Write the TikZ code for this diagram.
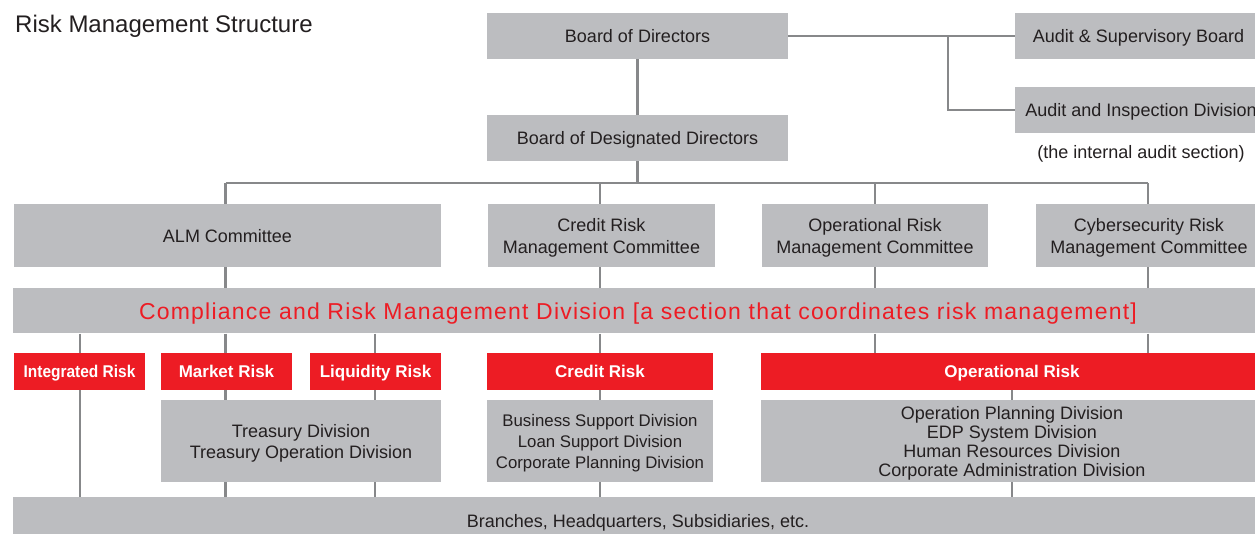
\documentclass[tikz,border=0pt]{standalone}
\usepackage{fontspec}
\setmainfont{Liberation Sans}
\usetikzlibrary{backgrounds}
\definecolor{boxgray}{HTML}{BCBDC0}
\definecolor{riskred}{HTML}{ED1C24}
\definecolor{linegray}{HTML}{87888A}
\definecolor{txt}{HTML}{231F20}
\tikzset{
  boxsize/.style 2 args={minimum width=#1pt,minimum height=#2pt},
  gbox/.style={fill=boxgray,draw=none,inner sep=0pt,text=txt,align=center,
    text depth=0pt,font=\fontsize{18}{22}\selectfont},
  rbox/.style={fill=riskred,draw=none,inner sep=0pt,text=white,align=center,
    text depth=0pt,font=\bfseries\fontsize{17}{20}\selectfont},
  conn/.style={draw=linegray,line width=2.4pt},
  plain/.style={inner sep=0pt,text=txt,font=\fontsize{18}{22}\selectfont},
}
\begin{document}
\begin{tikzpicture}[x=1pt,y=-1pt]
\useasboundingbox (0,0) rectangle (1255,534);
\begin{scope}
\clip (0,0) rectangle (1255,534);

% title
\node[anchor=base west,inner sep=0pt,text=txt,font=\fontsize{24}{28}\selectfont] (title) at (15,33) {Risk Management Structure};

% top
\node[gbox,boxsize={301}{46}] (bod) at (637.5,36) {Board of Directors};
\node[gbox,boxsize={301}{46}] (bodd) at (637.5,138) {Board of Designated Directors};
\node[gbox,boxsize={247}{46}] (asb) at (1138.5,36) {Audit \& Supervisory Board};
\node[gbox,boxsize={252}{46}] (aid) at (1141,110) {Audit and Inspection Division};
\node[plain,anchor=base] (note) at (1141,159) {(the internal audit section)};

% committees
\node[gbox,boxsize={227}{63}] (crc) at (601.5,235.5) {Credit Risk\\Management Committee};
\node[gbox,boxsize={427}{63}] (alm) at (227.5,235.5) {ALM Committee};
\node[gbox,boxsize={226}{63}] (orc) at (875,235.5) {Operational Risk\\Management Committee};
\node[gbox,boxsize={226}{63}] (cyc) at (1149,235.5) {Cybersecurity Risk\\Management Committee};

% coordinating division
\node[gbox,boxsize={1250}{45},text=riskred,font=\fontsize{23}{27}\selectfont\addfontfeature{LetterSpace=5.3}] (crm) at (638,311)
  {Compliance and Risk Management Division [a section that coordinates risk management]};

% risk categories
\node[rbox,boxsize={131}{37}] (ir) at (79.5,371.5) {\scalebox{0.91}[1]{Integrated Risk}};
\node[rbox,boxsize={131}{37}] (mr) at (226.5,371.5) {Market Risk};
\node[rbox,boxsize={131}{37}] (lr) at (375.5,371.5) {Liquidity Risk};
\node[rbox,boxsize={226}{37}] (cr) at (600,371.5) {Credit Risk};
\node[rbox,boxsize={502}{37}] (opr) at (1012,371.5) {Operational Risk};

% divisions
\node[gbox,boxsize={280}{82},font=\fontsize{18}{21}\selectfont] (tre) at (301,441) {Treasury Division\\Treasury Operation Division};
\node[gbox,boxsize={226}{82},font=\fontsize{16.8}{21}\selectfont] (cdv) at (600,441) {Business Support Division\\Loan Support Division\\Corporate Planning Division};
\node[gbox,boxsize={502}{82},font=\fontsize{18}{19}\selectfont] (odv) at (1012,441) {Operation Planning Division\\EDP System Division\\Human Resources Division\\Corporate Administration Division};

% bottom
\node[gbox,boxsize={1250}{48}] (br) at (638,521) {Branches, Headquarters, Subsidiaries, etc.};

% column coordinates
\coordinate (xA) at (80,0);
\coordinate (xB) at (225.5,0);
\coordinate (xC) at (375,0);
\coordinate (xD) at (600,0);
\coordinate (xE) at (875,0);
\coordinate (xF) at (1012,0);
\coordinate (xG) at (1148,0);
\coordinate (ja) at (948,36);
\coordinate (bus) at (637.5,183);

\begin{scope}[on background layer]
\draw[conn] (bod) -- (bodd);
\draw[conn] (bod.east) -- (asb.west);
\draw[conn] (ja) |- (aid.west);
\draw[conn] (bodd.south) -- (bus);
\draw[conn] (bus -| xB) -- (bus -| xG);
% bus to committees
\draw[conn] (bus -| xB) -- (alm.north -| xB);
\draw[conn] (bus -| xD) -- (crc.north -| xD);
\draw[conn] (bus -| xE) -- (orc.north -| xE);
\draw[conn] (bus -| xG) -- (cyc.north -| xG);
% committees to coordinating division
\draw[conn] (alm.south -| xB) -- (crm.north -| xB);
\draw[conn] (crc.south -| xD) -- (crm.north -| xD);
\draw[conn] (orc.south -| xE) -- (crm.north -| xE);
\draw[conn] (cyc.south -| xG) -- (crm.north -| xG);
% coordinating division to risk categories
\draw[conn] (crm.south -| xA) -- (ir.north -| xA);
\draw[conn] (crm.south -| xB) -- (mr.north -| xB);
\draw[conn] (crm.south -| xC) -- (lr.north -| xC);
\draw[conn] (crm.south -| xD) -- (cr.north -| xD);
\draw[conn] (crm.south -| xE) -- (opr.north -| xE);
\draw[conn] (crm.south -| xG) -- (opr.north -| xG);
% risk categories to divisions
\draw[conn] (ir.south -| xA) -- (br.north -| xA);
\draw[conn] (mr.south -| xB) -- (tre.north -| xB);
\draw[conn] (lr.south -| xC) -- (tre.north -| xC);
\draw[conn] (cr.south -| xD) -- (cdv.north -| xD);
\draw[conn] (opr.south -| xF) -- (odv.north -| xF);
% divisions to branches
\draw[conn] (tre.south -| xB) -- (br.north -| xB);
\draw[conn] (tre.south -| xC) -- (br.north -| xC);
\draw[conn] (cdv.south -| xD) -- (br.north -| xD);
\draw[conn] (odv.south -| xF) -- (br.north -| xF);
\end{scope}
\end{scope}
\end{tikzpicture}
\end{document}
